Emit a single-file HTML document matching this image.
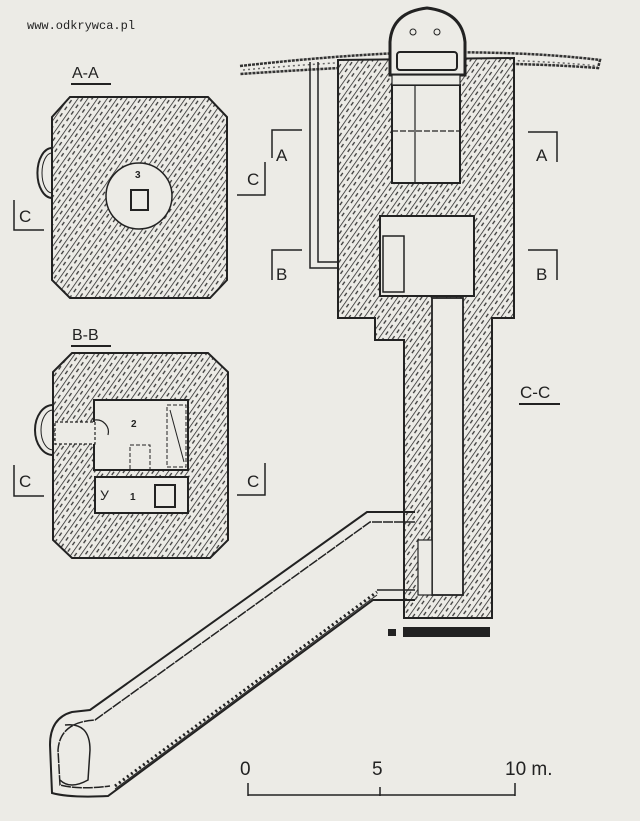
<!DOCTYPE html>
<html><head><style>
html,body{margin:0;padding:0;background:#ecebe6;}
svg{display:block}
text{font-family:"Liberation Sans",sans-serif;fill:#222}
</style></head><body>
<svg width="640" height="821" viewBox="0 0 640 821" xmlns="http://www.w3.org/2000/svg">
<defs>
<pattern id="h" width="8" height="8" patternUnits="userSpaceOnUse" patternTransform="rotate(35)">
<rect width="8" height="8" fill="#ecebe6"/>
<line x1="0" y1="0" x2="0" y2="8" stroke="#222" stroke-width="1.5"/>
<line x1="4" y1="1" x2="4" y2="5" stroke="#333" stroke-width="1.3"/>
</pattern>
</defs>
<rect width="640" height="821" fill="#ecebe6"/>
<text x="27" y="29" font-size="12" style="font-family:'Liberation Mono',monospace">www.odkrywca.pl</text>

<!-- A-A -->
<text x="72" y="78" font-size="16">A-A</text>
<line x1="71" y1="84" x2="111" y2="84" stroke="#222" stroke-width="2"/>
<polygon points="70,97 208,97 227,117 227,280 210,298 70,298 52,280 52,117" fill="url(#h)" stroke="#222" stroke-width="2"/>
<circle cx="139" cy="196" r="33" fill="#ecebe6" stroke="#222" stroke-width="1.5"/>
<text x="135" y="178" font-size="10" font-weight="bold">3</text>
<rect x="131" y="190" width="17" height="20" fill="none" stroke="#222" stroke-width="2"/>
<path d="M52,148 A14,24 0 0 0 52,198" fill="none" stroke="#222" stroke-width="2"/>
<path d="M52,153 A9,18 0 0 0 52,193" fill="none" stroke="#222" stroke-width="1"/>
<path d="M14,200 V230 H44" fill="none" stroke="#222" stroke-width="1.5"/>
<text x="19" y="222" font-size="17">C</text>
<path d="M237,195 H265 V162" fill="none" stroke="#222" stroke-width="1.5"/>
<text x="247" y="185" font-size="17">C</text>

<!-- B-B -->
<text x="72" y="340" font-size="16">B-B</text>
<line x1="71" y1="346" x2="111" y2="346" stroke="#222" stroke-width="2"/>
<polygon points="72,353 208,353 228,372 228,540 210,558 72,558 53,540 53,372" fill="url(#h)" stroke="#222" stroke-width="2"/>
<rect x="94" y="400" width="94" height="70" fill="#ecebe6" stroke="#222" stroke-width="2"/>
<rect x="95" y="477" width="93" height="36" fill="#ecebe6" stroke="#222" stroke-width="2"/>
<text x="131" y="427" font-size="10" font-weight="bold">2</text>
<text x="130" y="500" font-size="10" font-weight="bold">1</text>
<text x="100" y="500" font-size="14">У</text>
<rect x="155" y="485" width="20" height="22" fill="none" stroke="#222" stroke-width="2"/>
<rect x="167" y="405" width="19" height="62" fill="none" stroke="#222" stroke-width="1" stroke-dasharray="4,2"/>
<line x1="170" y1="410" x2="184" y2="462" stroke="#222"/>
<rect x="130" y="445" width="20" height="25" fill="none" stroke="#222" stroke-dasharray="4,2"/>
<rect x="55" y="422" width="40" height="22" fill="#ecebe6" stroke="#222" stroke-width="1.2" stroke-dasharray="3,2"/>
<path d="M53,405 A18,25 0 0 0 53,455" fill="none" stroke="#222" stroke-width="2"/>
<path d="M53,410 A12,20 0 0 0 53,450" fill="none" stroke="#222" stroke-width="1"/>
<path d="M95,420 A12,12 0 0 1 108,435" fill="none" stroke="#222" stroke-width="1.2"/>
<path d="M14,465 V496 H44" fill="none" stroke="#222" stroke-width="1.5"/>
<text x="19" y="487" font-size="17">C</text>
<path d="M237,495 H265 V463" fill="none" stroke="#222" stroke-width="1.5"/>
<text x="247" y="487" font-size="17">C</text>

<!-- C-C main section -->
<path d="M240,66 Q330,56 400,53 Q520,50 600,60 L598,68 Q520,62 420,64 Q330,68 240,74" fill="none" stroke="#333" stroke-width="2.5" stroke-dasharray="3,1"/>
<path d="M243,70 Q330,62 400,60 Q520,58 598,66" fill="none" stroke="#666" stroke-width="1.5" stroke-dasharray="2,3"/>
<polygon points="338,60 514,58 514,318 492,318 492,618 404,618 404,340 375,340 375,318 338,318" fill="url(#h)" stroke="#222" stroke-width="2"/>
<rect x="392" y="85" width="68" height="98" fill="#ecebe6" stroke="#222" stroke-width="2"/>
<line x1="415" y1="85" x2="415" y2="183" stroke="#222" stroke-width="1.2"/>
<line x1="392" y1="131" x2="460" y2="131" stroke="#222" stroke-width="1.2" stroke-dasharray="6,2"/>
<rect x="380" y="216" width="94" height="80" fill="#ecebe6" stroke="#222" stroke-width="2"/>
<rect x="383" y="236" width="21" height="56" fill="#ecebe6" stroke="#222" stroke-width="1.5"/>
<rect x="432" y="298" width="31" height="297" fill="#ecebe6" stroke="#222" stroke-width="1.8"/>
<rect x="418" y="540" width="14" height="55" fill="#ecebe6" stroke="#222" stroke-width="1.2"/>
<!-- turret -->
<path d="M390,75 L390,42 Q392,12 427,8 Q462,12 465,42 L465,75 Z" fill="#ecebe6" stroke="#222" stroke-width="3"/>
<rect x="397" y="52" width="60" height="18" rx="3" fill="#ecebe6" stroke="#222" stroke-width="2"/>
<circle cx="413" cy="32" r="3" fill="none" stroke="#222"/>
<circle cx="437" cy="32" r="3" fill="none" stroke="#222"/>
<rect x="392" y="75" width="68" height="10" fill="#ecebe6" stroke="#222" stroke-width="1.2"/>
<!-- pipe -->
<path d="M310,62 V268 H338 M318,62 V262 H338" fill="none" stroke="#222" stroke-width="1.5"/>
<!-- section markers -->
<path d="M272,158 V130 H302" fill="none" stroke="#222" stroke-width="1.5"/>
<text x="276" y="161" font-size="17">A</text>
<path d="M528,132 H557 V162" fill="none" stroke="#222" stroke-width="1.5"/>
<text x="536" y="161" font-size="17">A</text>
<path d="M272,280 V250 H302" fill="none" stroke="#222" stroke-width="1.5"/>
<text x="276" y="280" font-size="17">B</text>
<path d="M528,250 H557 V280" fill="none" stroke="#222" stroke-width="1.5"/>
<text x="536" y="280" font-size="17">B</text>
<text x="520" y="398" font-size="17">C-C</text>
<line x1="519" y1="404" x2="560" y2="404" stroke="#222" stroke-width="2"/>
<!-- stairs tunnel -->
<path d="M415,512 L367,512 L90,710 L72,712 Q50,718 50,745 L52,793 Q70,798 108,796 L373,600 L415,600" fill="none" stroke="#222" stroke-width="2"/>
<path d="M415,522 L370,522 L95,720 Q60,722 58,750 L60,785 Q80,790 110,786" fill="none" stroke="#222" stroke-width="1.5" stroke-dasharray="10,1"/>
<line x1="115" y1="786" x2="377" y2="592" stroke="#222" stroke-width="3" stroke-dasharray="2,3"/>
<line x1="115" y1="789" x2="377" y2="595" stroke="#222" stroke-width="1"/>
<line x1="377" y1="590" x2="415" y2="590" stroke="#222" stroke-width="1.5"/>
<path d="M65,725 Q90,722 90,750 L88,780 Q70,790 60,780" fill="none" stroke="#222" stroke-width="1.5"/>
<line x1="404" y1="520" x2="404" y2="600" stroke="#222" stroke-width="1.2" stroke-dasharray="8,3"/>
<rect x="403" y="627" width="87" height="10" fill="#222"/>
<rect x="388" y="629" width="8" height="7" fill="#222"/>
<!-- scale -->
<line x1="248" y1="795" x2="515" y2="795" stroke="#222" stroke-width="1.5"/>
<line x1="248" y1="783" x2="248" y2="796" stroke="#222" stroke-width="1.5"/>
<line x1="380" y1="787" x2="380" y2="796" stroke="#222" stroke-width="1.5"/>
<line x1="515" y1="783" x2="515" y2="796" stroke="#222" stroke-width="1.5"/>
<text x="240" y="775" font-size="19">0</text>
<text x="372" y="775" font-size="19">5</text>
<text x="505" y="775" font-size="19">10 m.</text>
</svg>
</body></html>
